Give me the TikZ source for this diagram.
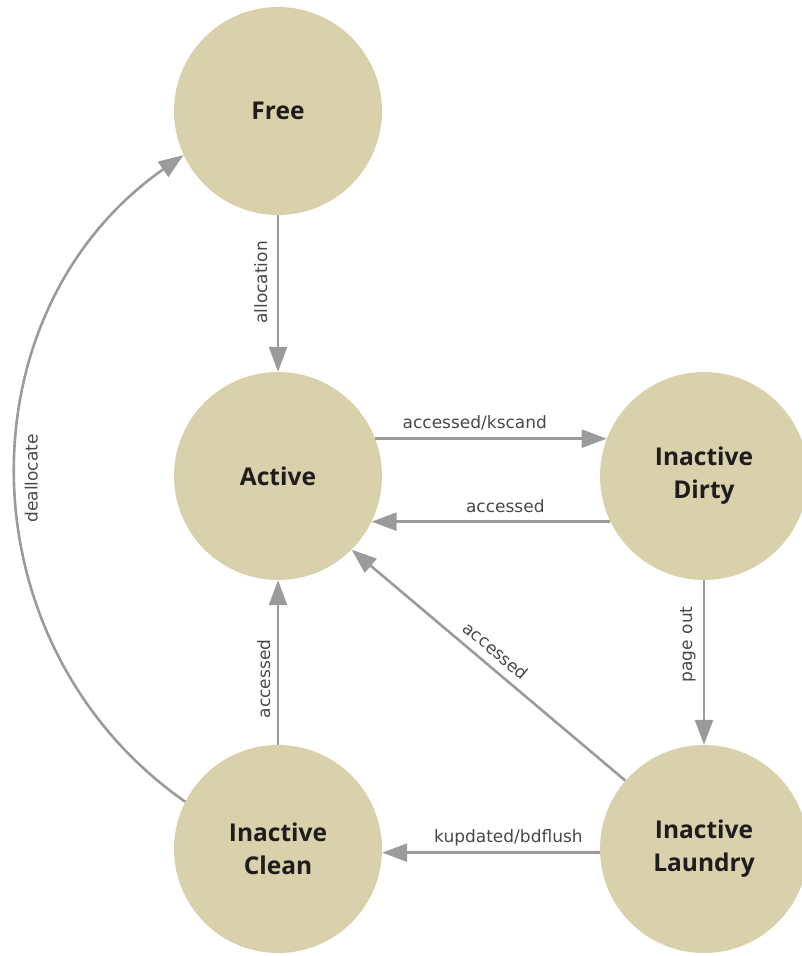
\documentclass[tikz,border=0pt]{standalone}
\usepackage{fontspec}
\setmainfont{Open Sans}
\newfontfamily\lblfont{DejaVu Sans}
\usetikzlibrary{arrows.meta}
\definecolor{statefill}{RGB}{216,209,172}
\definecolor{edgegray}{RGB}{155,155,155}
\definecolor{lblgray}{RGB}{72,72,72}
\definecolor{statetext}{RGB}{30,28,28}
\begin{document}
\begin{tikzpicture}[x=1pt,y=1pt,
  state/.style={circle, fill=statefill, minimum size=208pt, inner sep=0pt,
    font=\fontsize{24.5}{33}\selectfont\bfseries, text=statetext, align=center},
  trans/.style={draw=edgegray, line width=2.6pt, -{Triangle[length=25pt,width=18pt]}},
  lbl/.style={font=\lblfont\fontsize{17}{20}\selectfont, text=lblgray, inner sep=0pt}]
\useasboundingbox (0,0) rectangle (802,-956);
\clip (0,0) rectangle (802,-956);

% states
\node[state] (free)    at (278,-111) {Free};
\node[state] (active)  at (278,-476) {Active};
\node[state] (dirty)   at (704,-476) {Inactive\\Dirty};
\node[state] (clean)   at (278,-849) {Inactive\\Clean};
\node[state] (laundry) at (704,-849) {Inactive\\Laundry};

% transitions
\draw[trans] (free.south) -- (active.north)
  node[lbl, pos=0.43, xshift=-11pt, rotate=90, anchor=base] {allocation};
\draw[trans] (active.21) -- (dirty.159)
  node[lbl, pos=0.43, yshift=10pt, anchor=base] {accessed/kscand};
\draw[trans] (dirty.206.5) -- (active.-26.5)
  node[lbl, pos=0.44, yshift=9pt, anchor=base] {accessed};
\draw[trans] (dirty.south) -- (laundry.north)
  node[lbl, pos=0.39, xshift=-12pt, rotate=90, anchor=base] {page out};
\draw[trans] (clean.north) -- (active.south)
  node[lbl, pos=0.40, xshift=-8pt, rotate=90, anchor=base] {accessed};
\draw[trans] (laundry.139) -- (active.-45)
  node[lbl, pos=0.51, sloped, above=8pt] {accessed};
\draw[trans] (laundry.182) -- (clean.-2)
  node[lbl, pos=0.42, yshift=10pt, anchor=base] {kupdated/bdflush};
\draw[trans] (clean.153) to[out=145, in=215, looseness=1.08]
  node[lbl, pos=0.5, rotate=90, anchor=north, inner ysep=7pt] {deallocate} (free.205);
\end{tikzpicture}
\end{document}
